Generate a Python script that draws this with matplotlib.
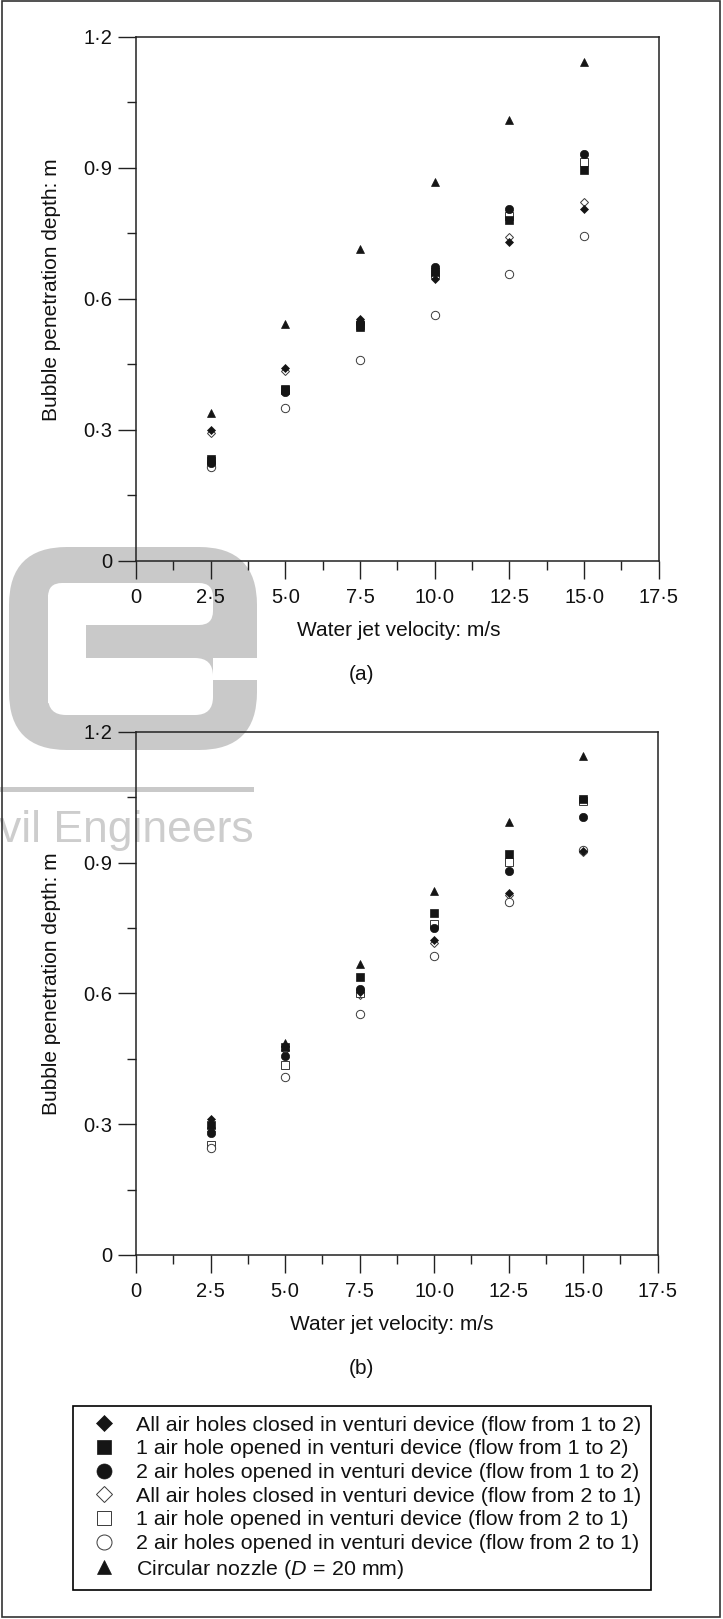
import matplotlib
matplotlib.use('Agg')
import matplotlib.pyplot as plt
from matplotlib.patches import FancyBboxPatch, Rectangle
from matplotlib.transforms import Affine2D
from matplotlib.ticker import AutoMinorLocator

W, H = 723, 1619

# ---------------- data ----------------
velocity = [2.5, 5.0, 7.5, 10.0, 12.5, 15.0]

a_closed_12 = [0.300, 0.442, 0.553, 0.645, 0.731, 0.807]
a_one_12    = [0.232, 0.393, 0.535, 0.662, 0.781, 0.895]
a_two_12    = [0.223, 0.387, 0.545, 0.674, 0.805, 0.932]
a_closed_21 = [0.292, 0.435, 0.550, 0.652, 0.741, 0.823]
a_one_21    = [0.228, 0.390, 0.540, 0.658, 0.790, 0.914]
a_two_21    = [0.215, 0.349, 0.461, 0.563, 0.656, 0.743]
a_nozzle    = [0.338, 0.542, 0.714, 0.867, 1.010, 1.143]

b_closed_12 = [0.312, 0.480, 0.603, 0.722, 0.829, 0.927]
b_one_12    = [0.298, 0.478, 0.638, 0.785, 0.920, 1.046]
b_two_12    = [0.279, 0.456, 0.609, 0.750, 0.881, 1.005]
b_closed_21 = [0.285, 0.470, 0.596, 0.715, 0.826, 0.925]
b_one_21    = [0.252, 0.436, 0.600, 0.760, 0.902, 1.040]
b_two_21    = [0.245, 0.409, 0.553, 0.686, 0.809, 0.928]
b_nozzle    = [0.300, 0.485, 0.667, 0.835, 0.994, 1.145]

series_labels = [
    'All air holes closed in venturi device (flow from 1 to 2)',
    '1 air hole opened in venturi device (flow from 1 to 2)',
    '2 air holes opened in venturi device (flow from 1 to 2)',
    'All air holes closed in venturi device (flow from 2 to 1)',
    '1 air hole opened in venturi device (flow from 2 to 1)',
    '2 air holes opened in venturi device (flow from 2 to 1)',
    r'Circular nozzle ($D\,{=}\,20$ mm)',
]

x_ticks = [0, 2.5, 5.0, 7.5, 10.0, 12.5, 15.0, 17.5]
x_tick_labels = ['0', '2·5', '5·0', '7·5', '10·0', '12·5', '15·0', '17·5']
y_ticks = [0, 0.3, 0.6, 0.9, 1.2]
y_tick_labels = ['0', '0·3', '0·6', '0·9', '1·2']

# ---------------- style ----------------
plt.rcParams['font.family'] = ['Liberation Sans', 'DejaVu Sans']
plt.rcParams['mathtext.fontset'] = 'custom'
plt.rcParams['mathtext.rm'] = 'Liberation Sans'
plt.rcParams['mathtext.it'] = 'Liberation Sans:italic'

INK = '#151515'
OPEN_EDGE = '#3a3a3a'
styles = [
    dict(marker='D', ms=4.4, mfc=INK, mec=INK, mew=0.5, zorder=4),
    dict(marker='s', ms=5.5, mfc=INK, mec=INK, mew=0.5, zorder=4),
    dict(marker='o', ms=6.0, mfc=INK, mec=INK, mew=0.5, zorder=4),
    dict(marker='D', ms=4.4, mfc='white', mec=OPEN_EDGE, mew=0.7, zorder=3),
    dict(marker='s', ms=5.5, mfc='white', mec=OPEN_EDGE, mew=0.7, zorder=3),
    dict(marker='o', ms=6.0, mfc='white', mec=OPEN_EDGE, mew=0.7, zorder=3),
    dict(marker='^', ms=5.8, mfc=INK, mec=INK, mew=0.5, zorder=5),
]

fig = plt.figure(figsize=(W / 100, H / 100), dpi=100)
fig.patch.set_facecolor('white')
px = Affine2D().scale(1 / W, -1 / H).translate(0, 1) + fig.transFigure


def setup_axes(rect_px, data, xlab_xy, ylab_xy, panel_xy, panel_txt):
    l, t, r, b = rect_px
    ax = fig.add_axes([l / W, 1 - b / H, (r - l) / W, (b - t) / H])
    ax.set_facecolor('none')
    handles = []
    for vals, st in zip(data, styles):
        h, = ax.plot(velocity, vals, linestyle='none', **st)
        handles.append(h)
    ax.set_xlim(0, 17.5)
    ax.set_ylim(0, 1.2)
    ax.set_xticks(x_ticks, x_tick_labels)
    ax.set_yticks(y_ticks, y_tick_labels)
    ax.xaxis.set_minor_locator(AutoMinorLocator(2))
    ax.yaxis.set_minor_locator(AutoMinorLocator(2))
    ax.tick_params(which='major', direction='out', length=13.3, width=1.0,
                   color='#222', labelsize=14.5, labelcolor='#111')
    ax.tick_params(which='minor', direction='out', length=6.5, width=1.0,
                   color='#222')
    ax.tick_params(axis='x', which='major', pad=6.0)
    ax.tick_params(axis='y', which='major', pad=3.6)
    for sp in ax.spines.values():
        sp.set_linewidth(1.1)
        sp.set_color('#222')
    ax.set_xlabel('Water jet velocity: m/s', fontsize=15, color='#111')
    ax.set_ylabel('Bubble penetration depth: m', fontsize=15, color='#111')
    ax.xaxis.label.set_va('center')
    ax.yaxis.label.set_va('center')
    ax.xaxis.set_label_coords((xlab_xy[0] - l) / (r - l), (b - xlab_xy[1]) / (b - t))
    ax.yaxis.set_label_coords((ylab_xy[0] - l) / (r - l), (b - ylab_xy[1]) / (b - t))
    fig.text(panel_xy[0] / W, 1 - panel_xy[1] / H, panel_txt, ha='center',
             va='center', fontsize=15, color='#111')
    return ax, handles


ax_a, handles = setup_axes(
    (136, 37, 658.7, 560.7),
    [a_closed_12, a_one_12, a_two_12, a_closed_21, a_one_21, a_two_21, a_nozzle],
    (399, 630), (52, 290), (362, 675), '(a)')
ax_b, _ = setup_axes(
    (136, 731.7, 657.7, 1255),
    [b_closed_12, b_one_12, b_two_12, b_closed_21, b_one_21, b_two_21, b_nozzle],
    (392, 1325), (52, 984), (361, 1368), '(b)')

# ---------------- legend ----------------
leg = fig.legend(handles, series_labels, loc='upper left',
                 bbox_to_anchor=(72.6 / W, 1 - 1406 / H),
                 bbox_transform=fig.transFigure, frameon=True, fancybox=False,
                 edgecolor='black', framealpha=1, fontsize=15.4,
                 borderpad=0.45, handlelength=2.0, handletextpad=0.51,
                 labelspacing=0.22, markerscale=1.8, borderaxespad=0,
                 numpoints=1)
leg.get_frame().set_linewidth(1.2)
for txt in leg.get_texts():
    txt.set_color('#111')

# ---------------- watermark (decoration) ----------------
GRAY = '#c9c9c9'
fig.add_artist(FancyBboxPatch((9, 547), 248, 203,
                              boxstyle='round,pad=0,rounding_size=58',
                              transform=px, fc=GRAY, ec='none', zorder=-3))
for (x0, y0, w, h, rs) in [(48, 583, 165, 42, 14), (48, 658, 165, 57, 18)]:
    fig.add_artist(FancyBboxPatch((x0, y0), w, h,
                                  boxstyle='round,pad=0,rounding_size=%g' % rs,
                                  transform=px, fc='white', ec='none', zorder=-2))
fig.add_artist(Rectangle((48, 595), 38, 108, transform=px, fc='white',
                         ec='none', zorder=-2))
fig.add_artist(Rectangle((213, 658), 50, 22, transform=px, fc='white',
                         ec='none', zorder=-2))
fig.add_artist(Rectangle((0, 787), 254, 5, transform=px, fc=GRAY,
                         ec='none', zorder=-2))
fig.text(254 / W, 1 - 842 / H, 'vil Engineers', ha='right', va='baseline',
         fontsize=32, color='#cdcdcd', zorder=-2)

# ---------------- outer frame ----------------
fig.add_artist(Rectangle((1.5, 1.5), 718.5, 1615.5, transform=px, fill=False,
                         ec='#333333', lw=1.2, zorder=10))

fig.savefig('out.png', dpi=100, facecolor='white')
